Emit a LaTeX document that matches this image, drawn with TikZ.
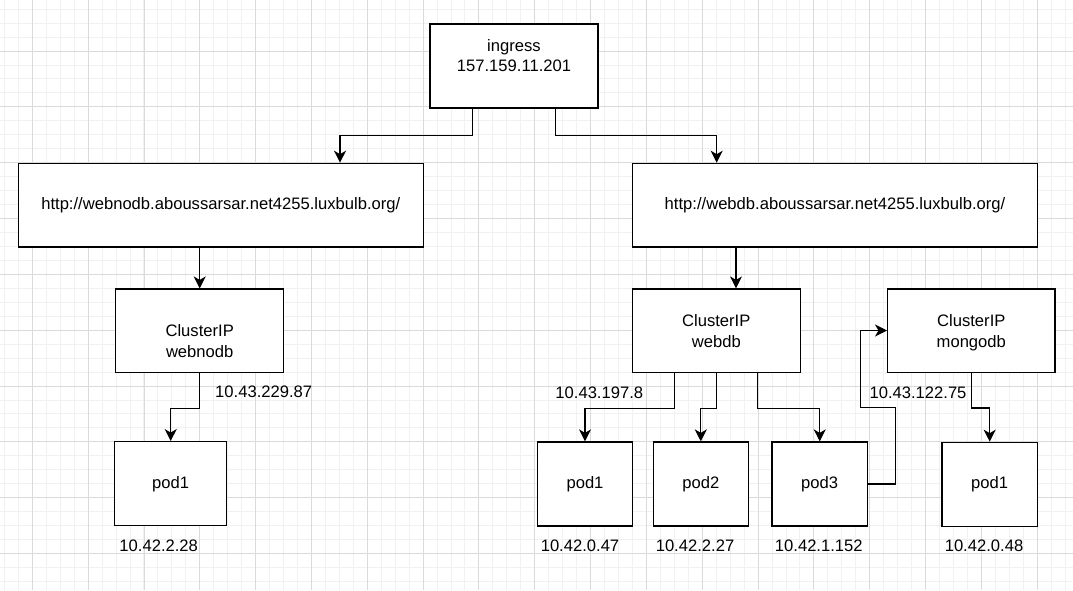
\documentclass[tikz,border=0pt]{standalone}
\usepackage{fontspec}
\setmainfont{Liberation Sans}
\usetikzlibrary{arrows.meta}
\definecolor{gridminor}{HTML}{F1F1F1}
\definecolor{gridmajor}{HTML}{DADADA}
\begin{document}
\begin{tikzpicture}[x=1pt,y=-1pt,
  box/.style={draw=black, line width=1.3pt, fill=white, inner sep=0pt, align=center, font=\fontsize{16.6}{20.5}\selectfont},
  lbl/.style={inner sep=0pt, align=center, font=\fontsize{16.6}{20.5}\selectfont},
  arr/.style={draw=black, line width=1.3pt, -{Stealth[length=12pt,width=12pt,inset=3.5pt]}}]
\useasboundingbox (0,0) rectangle (1073,590);
\fill[white] (0,0) rectangle (1073,590);
% grid
\foreach \i in {0,...,77} { \draw[gridminor, line width=1pt] ({4.4+13.957*\i},0) -- ++(0,590); }
\foreach \i in {0,...,42} { \draw[gridminor, line width=1pt] (0,{9.2+13.957*\i}) -- ++(1073,0); }
\foreach \i in {-1,...,19} { \draw[gridmajor, line width=0.9pt] ({32.3+55.83*\i},0) -- ++(0,590); }
\foreach \i in {-1,...,10} { \draw[gridmajor, line width=0.9pt] (0,{51+55.83*\i}) -- ++(1073,0); }

% boxes
\node[box, minimum width=168pt, minimum height=84pt,
  label={[lbl, yshift=10.6pt]center:{ingress\\157.159.11.201}}] (ing) at (514,66) {};
\node[box, minimum width=405pt, minimum height=83.7pt] (urlA) at (220.8,205.2) {http://webnodb.aboussarsar.net4255.luxbulb.org/};
\node[box, minimum width=405.4pt, minimum height=83.7pt] (urlB) at (835,205.2) {http://webdb.aboussarsar.net4255.luxbulb.org/};
\node[box, minimum width=168pt, minimum height=83.3pt,
  label={[lbl, yshift=-10.2pt]center:{ClusterIP\\webnodb}}] (cipA) at (199.7,330.7) {};
\node[box, minimum width=168pt, minimum height=83.3pt,
  label={[lbl, yshift=-0.5pt]center:{ClusterIP\\webdb}}] (cipB) at (716.3,330.7) {};
\node[box, minimum width=167.3pt, minimum height=83.3pt,
  label={[lbl, yshift=-2pt]center:{ClusterIP\\mongodb}}] (cipC) at (971.3,330.5) {};
\node[box, minimum width=112pt, minimum height=84pt] (podA) at (170.7,483.7) {pod1};
\node[box, minimum width=94.6pt, minimum height=84pt] (podB1) at (585,484) {pod1};
\node[box, minimum width=95pt, minimum height=84pt] (podB2) at (700.8,484) {pod2};
\node[box, minimum width=95.3pt, minimum height=84pt] (podB3) at (819.7,484) {pod3};
\node[box, minimum width=95.3pt, minimum height=84pt] (podC1) at (989.7,484.3) {pod1};

% labels
\node[lbl] (ipA) at (263.7,391.7) {10.43.229.87};
\node[lbl] (ipB) at (599.3,392.3) {10.43.197.8};
\node[lbl] (ipC) at (918,392.3) {10.43.122.75};
\node[lbl] (pA) at (158.7,545.5) {10.42.2.28};
\node[lbl] (pB1) at (580,546) {10.42.0.47};
\node[lbl] (pB2) at (695,546) {10.42.2.27};
\node[lbl] (pB3) at (818.8,546) {10.42.1.152};
\node[lbl] (pC1) at (984,545.7) {10.42.0.48};

% connectors
\coordinate (bIn) at ([xshift=19.7pt]cipB.north);
\draw[arr] ([xshift=-41.7pt]ing.south) -- ++(0,27) -| ([xshift=119.2pt]urlA.north);
\draw[arr] ([xshift=41.7pt]ing.south) -- ++(0,27) -| ([xshift=-118.3pt]urlB.north);
\draw[arr] (urlA.south -| cipA.north) -- (cipA.north);
\draw[arr] (bIn |- urlB.south) -- (bIn);
\draw[arr] (cipA.south) -- ++(0,35.4) -| (podA.north);
\draw[arr] ([xshift=-42pt]cipB.south) -- ++(0,35.4) -| (podB1.north);
\draw[arr] (cipB.south) -- ++(0,35.4) -| (podB2.north);
\draw[arr] ([xshift=41.4pt]cipB.south) -- ++(0,35.4) -| (podB3.north);
\draw[arr] (podB3.east) -- ++(27.2,0) -- ++(0,-76.6) -- ++(-34.5,0) |- (cipC.west);
\draw[arr] (cipC.south) -- ++(0,35.2) -| (podC1.north);
\end{tikzpicture}
\end{document}
